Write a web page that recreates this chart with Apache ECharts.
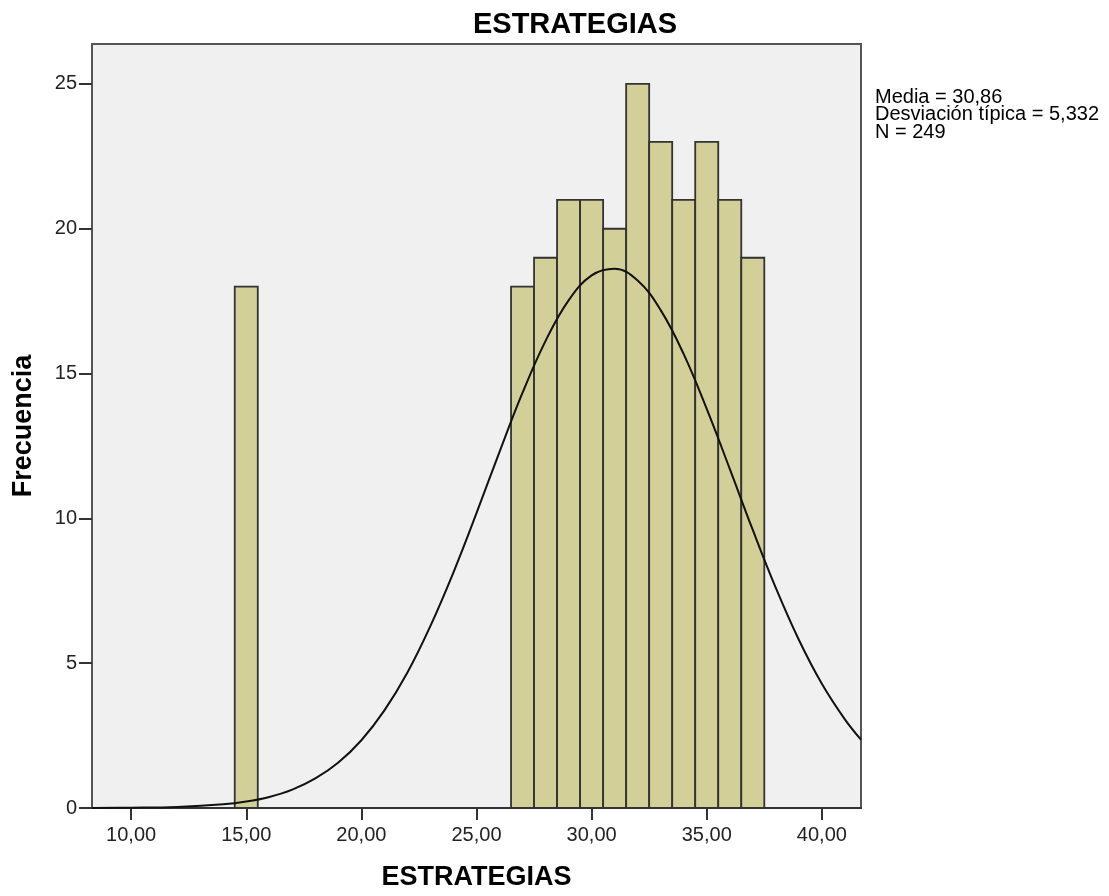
<!DOCTYPE html>
<html><head><meta charset="utf-8">
<script src="https://cdn.jsdelivr.net/npm/echarts@6/dist/echarts.min.js"></script>
<style>html,body{margin:0;padding:0;background:#fff}#c{width:1109px;height:896px}</style>
</head><body><div id="c"></div>
<script>
// Histogram bins (bin centres, width 1) and frequencies
const binCenters = [15, 27, 28, 29, 30, 31, 32, 33, 34, 35, 36, 37];
const frequencies = [18, 18, 19, 21, 21, 20, 25, 23, 21, 23, 21, 19];
// Normal curve
const curveX = [8.3, 10, 12, 14, 15, 16, 17, 18, 19, 20, 21, 22, 23, 24, 25, 26, 27, 28, 29, 30, 31, 32, 33, 34, 35, 36, 37, 38, 39, 40, 41, 41.7];
const curveY = [0.002, 0.009, 0.036, 0.126, 0.223, 0.383, 0.635, 1.02, 1.57, 2.34, 3.37, 4.68, 6.29, 8.14, 10.18, 12.30, 14.34, 16.13, 17.53, 18.39, 18.62, 18.21, 17.19, 15.67, 13.78, 11.71, 9.60, 7.60, 5.81, 4.29, 3.06, 2.36];
const xTicks = [10, 15, 20, 25, 30, 35, 40];
const statsLines = ['Media = 30,86', 'Desviación típica = 5,332', 'N = 249'];

const FONT = 'Liberation Sans';
const chart = echarts.init(document.getElementById('c'), null, {renderer: 'canvas'});
chart.setOption({
  animation: false,
  backgroundColor: '#ffffff',
  title: {
    text: 'ESTRATEGIAS', left: 570, top: 5, textAlign: 'center',
    textStyle: {fontFamily: FONT, fontSize: 29, fontWeight: 'bold', color: '#000'}
  },
  graphic: [{
    type: 'text', left: 875, top: 87,
    style: {text: statsLines.join('\n'), fontFamily: FONT, fontSize: 20, lineHeight: 17.5, fill: '#000'}
  }],
  grid: {left: 92, top: 44, right: 248, bottom: 88, show: true, backgroundColor: '#f0f0f0', borderColor: '#555', borderWidth: 2},
  xAxis: {
    type: 'value', min: 8.3, max: 41.7,
    name: 'ESTRATEGIAS', nameLocation: 'middle', nameGap: 56,
    nameTextStyle: {fontFamily: FONT, fontSize: 27, fontWeight: 'bold', color: '#000'},
    splitLine: {show: false},
    axisLine: {show: true, onZero: false, lineStyle: {color: '#333', width: 2}},
    axisTick: {show: true, length: 12, lineStyle: {color: '#333', width: 2}, customValues: xTicks},
    axisLabel: {customValues: xTicks, fontFamily: FONT, fontSize: 20, color: '#222', margin: 17,
      formatter: v => v.toFixed(2).replace('.', ',')}
  },
  yAxis: {
    type: 'value', min: 0, max: 26.38, interval: 5,
    name: 'Frecuencia', nameLocation: 'middle', nameGap: 55, nameRotate: 90,
    nameTextStyle: {fontFamily: FONT, fontSize: 27, fontWeight: 'bold', color: '#000'},
    splitLine: {show: false},
    axisLine: {show: true, lineStyle: {color: '#555', width: 2}},
    axisTick: {show: true, length: 13, lineStyle: {color: '#333', width: 2}},
    axisLabel: {fontFamily: FONT, fontSize: 20, color: '#222', margin: 15, showMaxLabel: false}
  },
  series: [{
    type: 'custom',
    data: binCenters.map((c, i) => [c, frequencies[i]]),
    renderItem: function (params, api) {
      const c = api.value(0), v = api.value(1);
      const p1 = api.coord([c - 0.5, v]);
      const p2 = api.coord([c + 0.5, 0]);
      return {type: 'rect', shape: {x: p1[0], y: p1[1], width: p2[0] - p1[0], height: p2[1] - p1[1]},
        style: {fill: '#d3cf98', stroke: '#333', lineWidth: 1.8}};
    },
    z: 2
  }, {
    type: 'line', data: curveX.map((x, i) => [x, curveY[i]]), smooth: 0.4, symbol: 'none',
    lineStyle: {color: '#111', width: 2}, z: 3
  }]
});
</script></body></html>
